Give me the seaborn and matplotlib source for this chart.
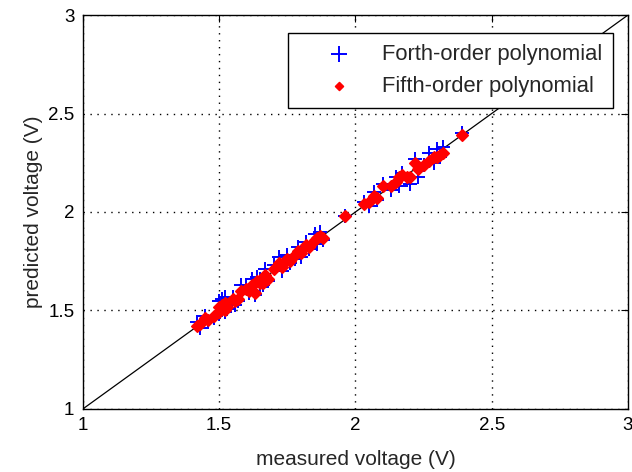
import matplotlib
matplotlib.use("Agg")
import matplotlib.pyplot as plt
import matplotlib.ticker as mticker
import numpy as np
import pandas as pd
import seaborn as sns

# measured voltage and the values predicted by the two calibration fits (V)
measured = [1.42, 1.43, 1.45, 1.46, 1.48, 1.50, 1.50, 1.51, 1.51, 1.52, 1.52, 1.53,
            1.55, 1.56, 1.57, 1.58, 1.60, 1.61, 1.62, 1.63, 1.64, 1.65, 1.65, 1.66,
            1.67, 1.68, 1.70, 1.72, 1.73, 1.74, 1.75, 1.76, 1.78, 1.79, 1.80, 1.82,
            1.83, 1.85, 1.86, 1.87, 1.88, 1.96, 2.03, 2.05, 2.07, 2.08, 2.10, 2.13,
            2.15, 2.16, 2.17, 2.19, 2.20, 2.22, 2.23, 2.25, 2.27, 2.29, 2.30, 2.31,
            2.32, 2.39]
pred_fourth = [1.44, 1.41, 1.47, 1.44, 1.46, 1.55, 1.48, 1.56, 1.50, 1.57, 1.49, 1.51,
               1.57, 1.53, 1.55, 1.63, 1.63, 1.59, 1.66, 1.58, 1.67, 1.62, 1.66, 1.63,
               1.71, 1.65, 1.73, 1.77, 1.70, 1.75, 1.78, 1.74, 1.76, 1.82, 1.77, 1.85,
               1.81, 1.89, 1.84, 1.90, 1.86, 1.98, 2.05, 2.03, 2.10, 2.06, 2.14, 2.11,
               2.18, 2.13, 2.20, 2.16, 2.14, 2.27, 2.18, 2.24, 2.30, 2.25, 2.32, 2.28,
               2.33, 2.40]
pred_fifth = [1.42, 1.43, 1.46, 1.45, 1.47, 1.52, 1.49, 1.53, 1.51, 1.54, 1.50, 1.52,
              1.56, 1.55, 1.56, 1.60, 1.61, 1.60, 1.63, 1.59, 1.65, 1.64, 1.65, 1.64,
              1.68, 1.66, 1.71, 1.74, 1.72, 1.75, 1.76, 1.75, 1.78, 1.80, 1.79, 1.83,
              1.82, 1.86, 1.87, 1.88, 1.87, 1.98, 2.04, 2.05, 2.08, 2.07, 2.13, 2.13,
              2.15, 2.18, 2.19, 2.18, 2.18, 2.25, 2.22, 2.24, 2.26, 2.28, 2.28, 2.29,
              2.30, 2.39]
series_names = ["Forth-order polynomial", "Fifth-order polynomial"]
ticks = [1, 1.5, 2, 2.5, 3]

df = pd.DataFrame({"measured": measured, "fourth": pred_fourth, "fifth": pred_fifth})

sns.set_style("white")
plt.rcParams["font.family"] = ["Liberation Sans", "DejaVu Sans"]
plt.rcParams["font.size"] = 13

fig = plt.figure(figsize=(6.32, 4.72), dpi=100)
ax = fig.add_axes([0.131, 0.1335, 0.8627, 0.8347])

# 1:1 reference line
ax.plot([1, 3], [1, 3], color="black", lw=0.9, zorder=1)

sns.scatterplot(data=df, x="measured", y="fourth", marker="+", s=110,
                color="#0000ff", linewidth=1.4, ax=ax, zorder=2,
                label=series_names[0])
sns.scatterplot(data=df, x="measured", y="fifth", marker="D", s=34,
                color="#ff0000", edgecolor="#ff0000", linewidth=1.2, ax=ax,
                zorder=3, label=series_names[1])

ax.set_xlim(1, 3)
ax.set_ylim(1, 3)
ax.set_xticks(ticks)
ax.set_yticks(ticks)
fmt = mticker.FuncFormatter(lambda v, p: f"{v:g}")
ax.xaxis.set_major_formatter(fmt)
ax.yaxis.set_major_formatter(fmt)
ax.tick_params(direction="in", length=5, width=0.8, top=True, right=True,
               labelsize=13.5, colors="black", pad=6)
ax.grid(True, linestyle=(0, (1, 4)), color="black", lw=1.0)
for sp in ax.spines.values():
    sp.set_visible(True)
    sp.set_color("black")
    sp.set_linewidth(1.0)

ax.set_xlabel("measured voltage (V)", fontsize=15, labelpad=11)
ax.set_ylabel("predicted voltage (V)", fontsize=15, labelpad=4)

leg = ax.legend(loc="upper right", bbox_to_anchor=(0.972, 0.954), borderaxespad=0,
                frameon=True, fancybox=False, framealpha=1, edgecolor="black",
                fontsize=15.8, handletextpad=0.15, borderpad=0.5, labelspacing=0.5,
                handlelength=3.6)
leg.get_frame().set_linewidth(1.0)
handles = leg.legend_handles
handles[0].set_sizes([130])
handles[1].set_sizes([16])

fig.savefig("out.png", dpi=100)
